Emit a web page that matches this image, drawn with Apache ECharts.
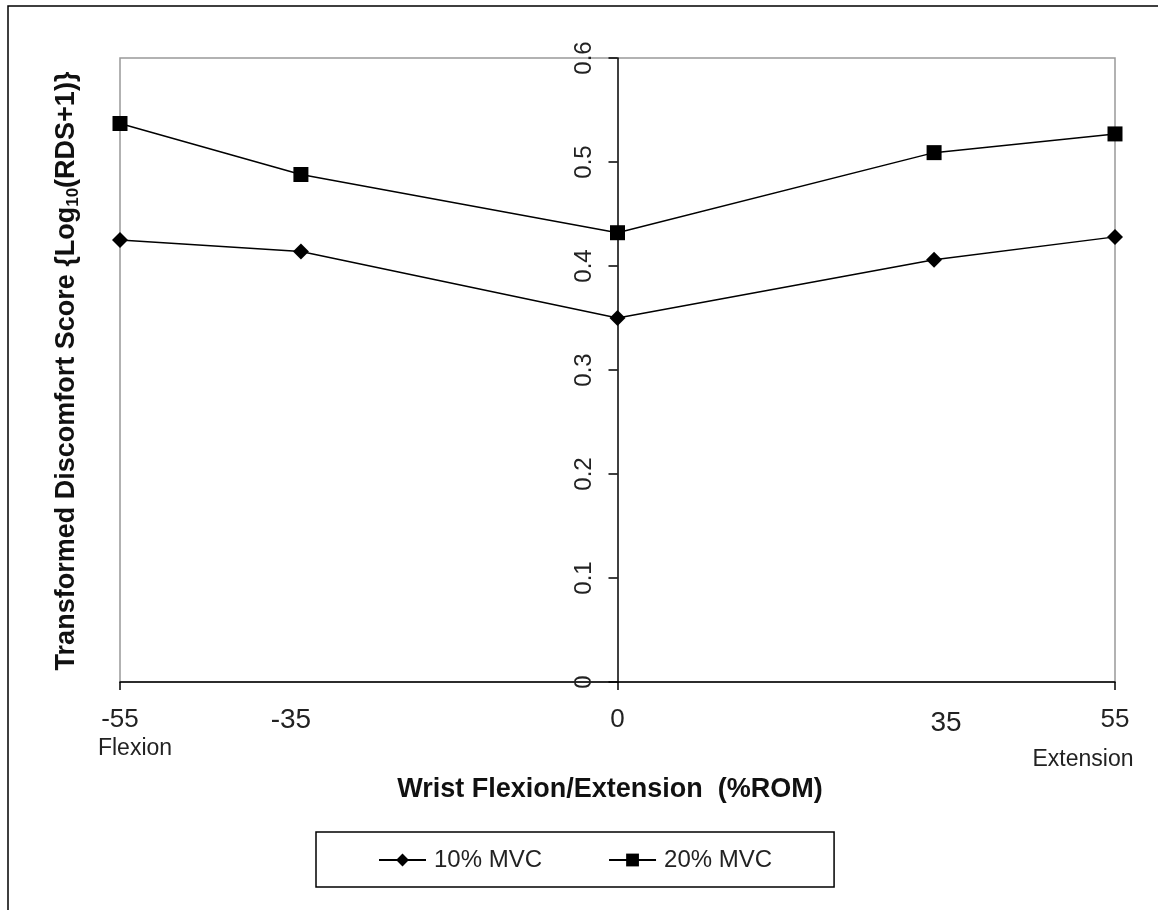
<!DOCTYPE html>
<html>
<head>
<meta charset="utf-8">
<script src="https://cdn.jsdelivr.net/npm/echarts@6/dist/echarts.min.js"></script>
<style>
html,body{margin:0;padding:0;background:#fff;}
#main{width:1158px;height:910px;}
</style>
</head>
<body>
<div id="main"></div>
<script>
// ---- data ----
const xPositions = [-55, -35, 0, 35, 55];
const xTickLabels = ['-55', '-35', '0', '35', '55'];
const xTickMarks = [-55, 0, 55];
const mvc10 = [0.425, 0.414, 0.350, 0.406, 0.428];
const mvc20 = [0.537, 0.488, 0.432, 0.509, 0.527];
const seriesNames = ['10% MVC', '20% MVC'];
const xAxisTitle = 'Wrist Flexion/Extension  (%ROM)';
const yAxisTitle = 'Transformed Discomfort Score {Log{s|10}(RDS+1)}';

const FONT = '"Liberation Sans", Arial, sans-serif';

function pairs(xs, ys) { return xs.map((x, i) => [x, ys[i]]); }

const GRID_LEFT = 120, GRID_RIGHT = 43;
const gridWidth = 1158 - GRID_LEFT - GRID_RIGHT;

const chart = echarts.init(document.getElementById('main'), null, {renderer: 'canvas'});

const option = {
  animation: false,
  backgroundColor: '#fff',
  textStyle: {fontFamily: FONT},
  grid: {left: GRID_LEFT, right: GRID_RIGHT, top: 58, bottom: 228, show: true,
    borderColor: '#999', borderWidth: 1.5, backgroundColor: 'transparent',
    containLabel: false, outerBoundsMode: 'none'},
  xAxis: {
    type: 'value', min: -55, max: 55,
    splitLine: {show: false},
    axisLine: {show: true, onZero: false, lineStyle: {color: '#000', width: 1.5}},
    axisTick: {show: true, customValues: xTickMarks, length: 8, lineStyle: {color: '#000', width: 1.5}},
    axisLabel: {
      customValues: xPositions,
      margin: 23,
      color: '#222',
      fontFamily: FONT,
      formatter: function (v) {
        const i = xPositions.indexOf(v);
        const t = xTickLabels[i];
        if (v === -55) return '{n|' + t + '}\n{f|Flexion}';
        if (v === 55) return '{n|' + t + '}\n{e|Extension}';
        if (v === -35) return '{m|' + t + '}';
        if (v === 35) return '{p|' + t + '}';
        return '{n|' + t + '}';
      },
      rich: {
        n: {fontSize: 26, lineHeight: 30, align: 'center', color: '#222', fontFamily: FONT},
        m: {fontSize: 28, lineHeight: 30, padding: [0, 20, 0, 0], color: '#222', fontFamily: FONT},
        p: {fontSize: 28, lineHeight: 30, padding: [6, 0, 0, 24], color: '#222', fontFamily: FONT},
        f: {fontSize: 23, lineHeight: 28, padding: [0, 0, 0, 30], color: '#222', fontFamily: FONT},
        e: {fontSize: 23, lineHeight: 50, padding: [0, 64, 0, 0], color: '#222', fontFamily: FONT}
      }
    },
    name: xAxisTitle,
    nameLocation: 'middle',
    nameGap: 76,
    nameTextStyle: {fontSize: 27, fontWeight: 'bold', color: '#111', fontFamily: FONT, padding: [0, 15, 0, 0]}
  },
  yAxis: {
    type: 'value', min: 0, max: 0.6, interval: 0.1,
    position: 'left',
    offset: -gridWidth / 2,
    splitLine: {show: false},
    axisLine: {show: true, onZero: false, lineStyle: {color: '#000', width: 1.5}},
    axisTick: {show: true, length: 9, lineStyle: {color: '#000', width: 1.5}},
    axisLabel: {rotate: 90, margin: 21, fontSize: 24, color: '#222', fontFamily: FONT,
      formatter: function (v) { return String(Math.round(v * 10) / 10); }}
  },
  legend: {
    data: seriesNames,
    left: 316, top: 832,
    orient: 'horizontal',
    itemWidth: 47, itemHeight: 16,
    itemGap: 66,
    padding: [16, 62, 15, 62],
    borderColor: '#000', borderWidth: 1.5,
    textStyle: {fontSize: 24, color: '#222', fontFamily: FONT, padding: [0, 0, 0, 3]}
  },
  series: [
    {name: seriesNames[0], type: 'line', data: pairs(xPositions, mvc10),
     symbol: 'diamond', symbolSize: [16, 16], color: '#000',
     lineStyle: {color: '#000', width: 1.5}, itemStyle: {color: '#000'}},
    {name: seriesNames[1], type: 'line', data: pairs(xPositions, mvc20),
     symbol: 'rect', symbolSize: [15, 15], color: '#000',
     lineStyle: {color: '#000', width: 1.5}, itemStyle: {color: '#000'}}
  ],
  graphic: [
    {type: 'rect', silent: true, shape: {x: 8, y: 6, width: 1300, height: 1100},
     style: {fill: 'none', stroke: '#000', lineWidth: 1.5}, z: -1},
    {type: 'text', x: 67, y: 371, rotation: Math.PI / 2,
     style: {text: yAxisTitle, fontSize: 27, fontWeight: 'bold', fontFamily: FONT, fill: '#111',
       align: 'center', verticalAlign: 'middle',
       rich: {s: {fontSize: 17, fontWeight: 'bold', fontFamily: FONT, fill: '#111', padding: [13, 0, 0, 0]}}}}
  ]
};
chart.setOption(option);
</script>
</body>
</html>
